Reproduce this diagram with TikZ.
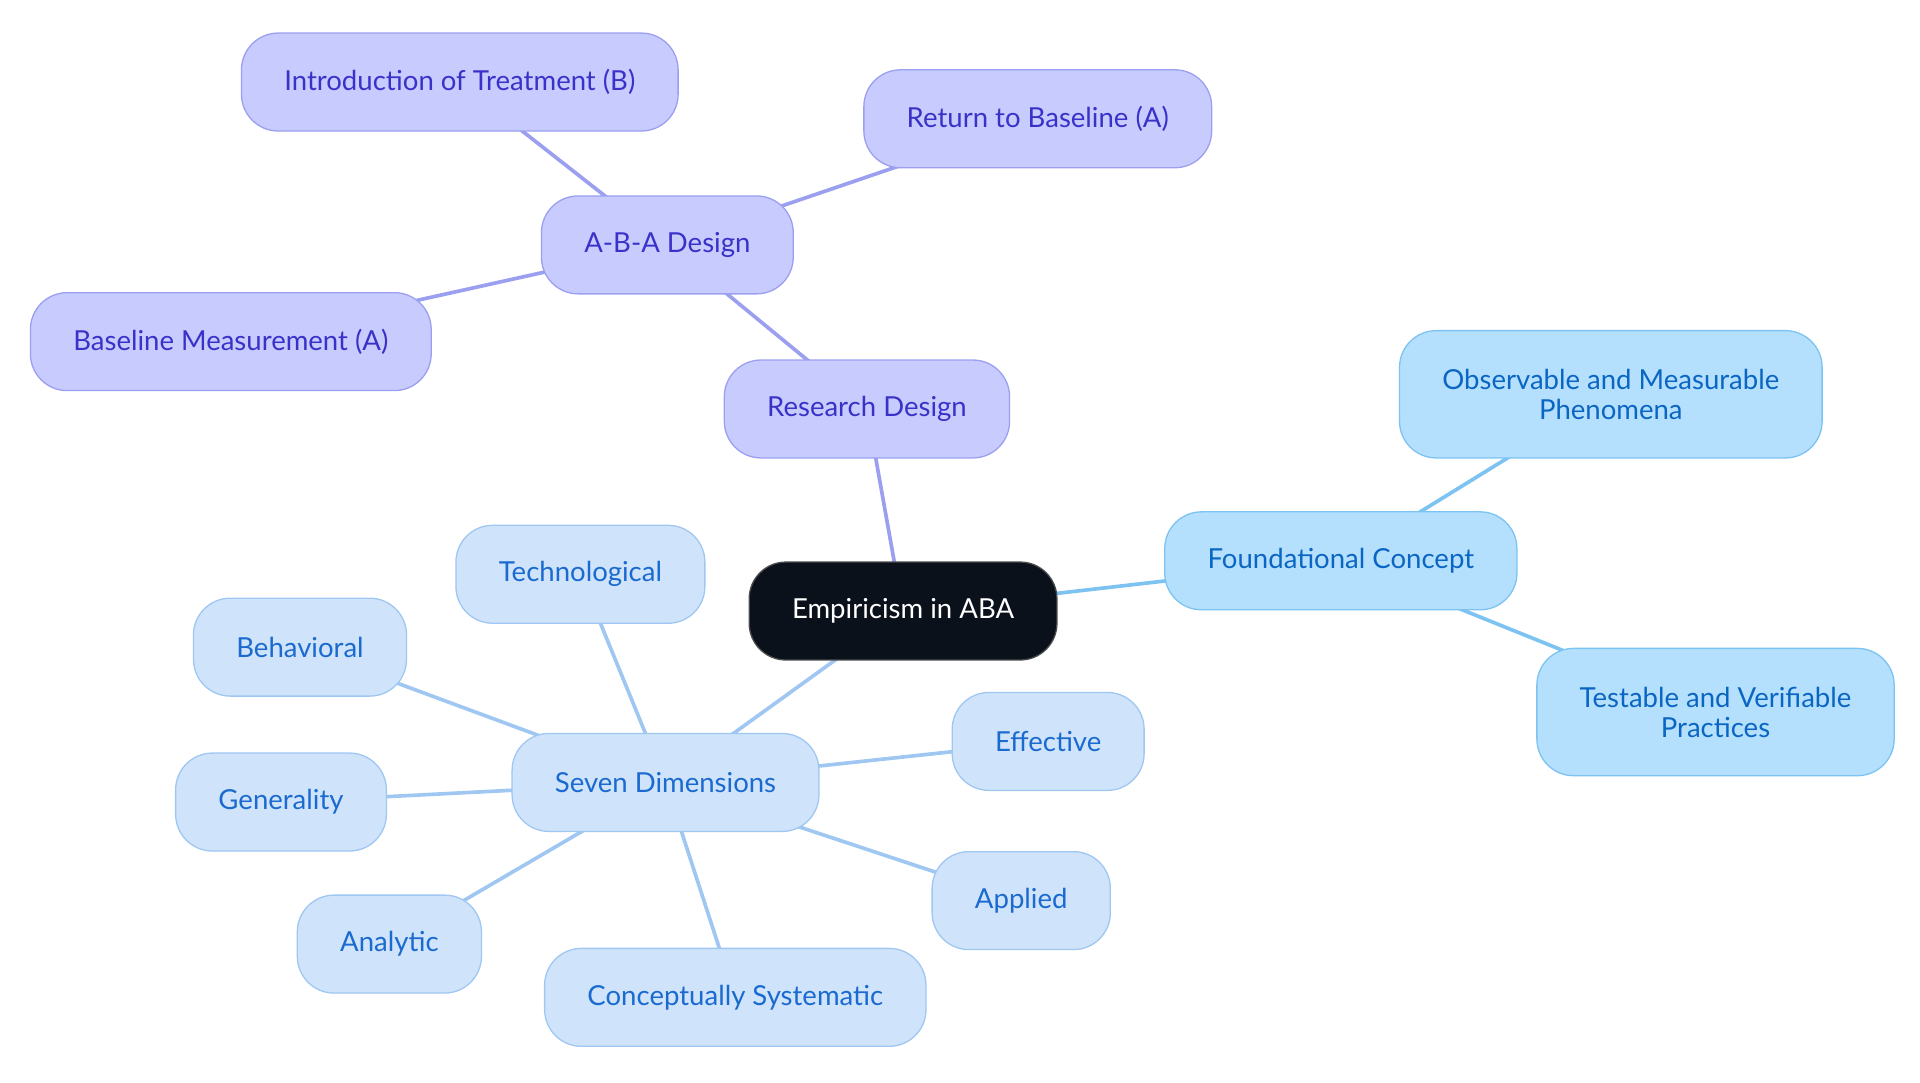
\documentclass[tikz,border=0pt]{standalone}
\usepackage{fontspec}
\setmainfont{Lato}
\usetikzlibrary{backgrounds}
\definecolor{coreblack}{HTML}{0B111B}
\definecolor{designfill}{HTML}{C8CBFE}
\definecolor{designline}{HTML}{9A9FF0}
\definecolor{designtext}{HTML}{3A32C8}
\definecolor{conceptfill}{HTML}{B4DFFD}
\definecolor{conceptline}{HTML}{7CC3F2}
\definecolor{concepttext}{HTML}{0A66C2}
\definecolor{dimfill}{HTML}{CFE3FA}
\definecolor{dimline}{HTML}{9FC7F2}
\definecolor{dimtext}{HTML}{1A6AD0}

\begin{document}
\begin{tikzpicture}[x=0.02cm,y=-0.02cm,
  every node/.style={rounded corners=0.6cm,minimum height=1.6cm,inner xsep=0.7cm,
    align=center,line width=0.6pt,font=\fontsize{12.8}{14}\selectfont},
  link/.style={line width=1.7pt}]
  \tikzstyle{core}=[fill=coreblack,draw=black!70,text=white]
  \tikzstyle{design}=[fill=designfill,draw=designline,text=designtext]
  \tikzstyle{concept}=[fill=conceptfill,draw=conceptline,text=concepttext]
  \tikzstyle{tall}=[minimum height=2.08cm]
  \tikzstyle{dim}=[fill=dimfill,draw=dimline,text=dimtext]

  \useasboundingbox (0,0) rectangle (1568,884.4);

  \node[core]    (E)   at (737.5,499)  {Empiricism in ABA};

  \node[design]  (RD)  at (708,334)    {Research Design};
  \node[design]  (ABA) at (545,200)    {A-B-A Design};
  \node[design]  (IT)  at (375.5,67)   {Introduction of Treatment (B)};
  \node[design]  (RB)  at (847.5,97)   {Return to Baseline (A)};
  \node[design]  (BM)  at (188.5,279)  {Baseline Measurement (A)};

  \node[concept] (FC)  at (1095,458)   {Foundational Concept};
  \node[concept,tall] (OM) at (1315.5,322) {Observable and Measurable\\Phenomena};
  \node[concept,tall] (TV) at (1401,581.5) {Testable and Verifiable\\Practices};

  \node[dim]     (SD)  at (543.5,639)  {Seven Dimensions};
  \node[dim]     (Tec) at (474,469)    {Technological};
  \node[dim]     (Beh) at (245,528.5)  {Behavioral};
  \node[dim]     (Gen) at (229.5,655)  {Generality};
  \node[dim]     (Ana) at (318,771)    {Analytic};
  \node[dim]     (CS)  at (600.5,814.5) {Conceptually Systematic};
  \node[dim]     (App) at (834,735.5)  {Applied};
  \node[dim]     (Eff) at (856,605.5)  {Effective};

  \begin{scope}[on background layer]
    \draw[link,designline] (E.center) -- (RD.center);
    \draw[link,designline] (RD.center) -- (ABA.center);
    \foreach \n in {IT,RB,BM}
      \draw[link,designline] (ABA.center) -- (\n.center);
    \draw[link,conceptline] (E.center) -- (FC.center);
    \foreach \n in {OM,TV}
      \draw[link,conceptline] (FC.center) -- (\n.center);
    \draw[link,dimline] (E.center) -- (SD.center);
    \foreach \n in {Tec,Beh,Gen,Ana,CS,App,Eff}
      \draw[link,dimline] (SD.center) -- (\n.center);
  \end{scope}
\end{tikzpicture}
\end{document}
